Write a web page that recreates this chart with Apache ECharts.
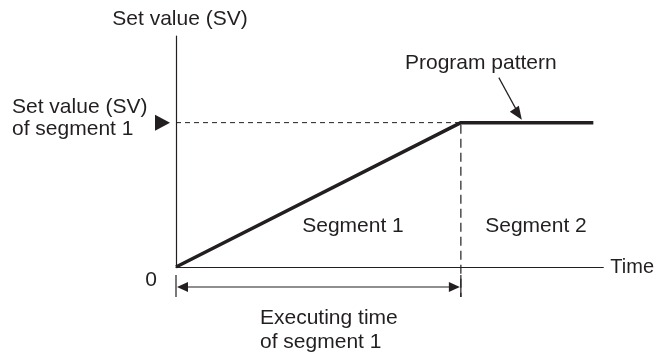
<!DOCTYPE html>
<html>
<head>
<meta charset="utf-8">
<script src="https://cdn.jsdelivr.net/npm/echarts@6/dist/echarts.min.js"></script>
<style>
html, body { margin: 0; padding: 0; background: #fff; }
#main { width: 657px; height: 359px; }
</style>
</head>
<body>
<div id="main"></div>
<script>
// program pattern: time / set value points
var timeData = [0, 10, 14.65];
var svData = [0, 100, 100];
var segTime = 10;   // executing time of segment 1
var segSV = 100;    // set value of segment 1
var xMax = 15;
var yMax = 160;

var ink = '#231f20';
var font = '"Liberation Sans", Arial, sans-serif';

var chart = echarts.init(document.getElementById('main'));

var points = [];
for (var i = 0; i < timeData.length; i++) {
    points.push([timeData[i], svData[i]]);
}

var option = {
    animation: false,
    backgroundColor: '#fff',
    grid: { left: 176, top: 36, right: 51, bottom: 92 },
    xAxis: {
        type: 'value',
        min: 0,
        max: xMax,
        name: 'Time',
        nameLocation: 'end',
        nameGap: 7,
        nameTextStyle: { color: ink, fontSize: 20, fontFamily: font, align: 'left', verticalAlign: 'middle' },
        axisLine: { onZero: false, lineStyle: { color: ink, width: 1.2 } },
        axisTick: { show: false },
        axisLabel: { show: false },
        splitLine: { show: false }
    },
    yAxis: {
        type: 'value',
        min: 0,
        max: yMax,
        name: 'Set value (SV)',
        nameLocation: 'end',
        nameGap: 6,
        nameTextStyle: { color: ink, fontSize: 21, fontFamily: font, align: 'center', padding: [0, 0, 0, 8] },
        axisLine: { onZero: false, lineStyle: { color: ink, width: 1.2 } },
        axisTick: { show: false },
        axisLabel: { show: false },
        splitLine: { show: false }
    },
    series: [{
        type: 'line',
        data: points,
        symbol: 'none',
        lineStyle: { color: ink, width: 3.5 }
    }]
};
chart.setOption(option);

// annotations placed from the axis scales
var o = chart.convertToPixel({ gridIndex: 0 }, [0, 0]);
var p = chart.convertToPixel({ gridIndex: 0 }, [segTime, segSV]);
var tipX = chart.convertToPixel({ gridIndex: 0 }, [12.14, segSV])[0];

function line(x1, y1, x2, y2, dash, w) {
    return {
        type: 'line',
        shape: { x1: x1, y1: y1, x2: x2, y2: y2 },
        style: { stroke: ink, lineWidth: w || 1.2, lineDash: dash || null }
    };
}
function tri(pts) {
    return { type: 'polygon', shape: { points: pts }, style: { fill: ink } };
}
function text(str, x, y, align, lh) {
    return {
        type: 'text',
        x: x, y: y,
        style: {
            text: str, fill: ink, fontSize: 21, fontFamily: font,
            align: align || 'center', verticalAlign: 'middle', lineHeight: lh || 24
        }
    };
}

var arrowY = o[1] + 20;
var els = [
    line(o[0], p[1], p[0], p[1], [5, 4], 1),
    line(p[0], p[1] + 2, p[0], o[1] + 30, [9, 5], 1.2),
    line(o[0], o[1] + 8, o[0], o[1] + 30, null, 1.2),
    line(p[0], o[1] + 8, p[0], o[1] + 30, null, 1.2),
    line(o[0] + 8, arrowY, p[0] - 8, arrowY, null, 1.2),
    tri([[o[0] + 1, arrowY], [o[0] + 12, arrowY - 5], [o[0] + 12, arrowY + 5]]),
    tri([[p[0] - 1, arrowY], [p[0] - 12, arrowY - 5], [p[0] - 12, arrowY + 5]]),
    tri([[o[0] - 6, p[1]], [o[0] - 21, p[1] - 8], [o[0] - 21, p[1] + 8]]),
    line(tipX - 23, p[1] - 45, tipX - 5, p[1] - 12, null, 1.2),
    tri([[tipX, p[1] - 3], [tipX - 12, p[1] - 11], [tipX - 3, p[1] - 17]]),
    text('Set value (SV)\nof segment 1', 12, p[1] - 4, 'left', 22),
    text('0', o[0] - 25, o[1] + 13),
    text('Segment 1', o[0] + 177, o[1] - 41),
    text('Segment 2', o[0] + 360, o[1] - 41),
    text('Executing time\nof segment 1', o[0] + 84, o[1] + 63, 'left', 24),
    text('Program pattern', tipX - 41, p[1] - 59)
];
chart.setOption({ graphic: { elements: els } });
</script>
</body>
</html>
